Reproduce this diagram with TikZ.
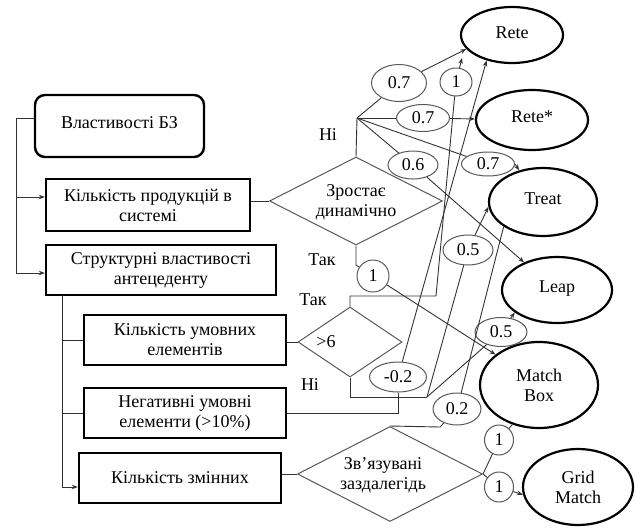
\documentclass[tikz,border=0pt]{standalone}
\usepackage{fontspec}
\setmainfont{Liberation Serif}
\usetikzlibrary{shapes.geometric,arrows.meta}
\begin{document}
\begin{tikzpicture}[x=1pt,y=-1pt,
  txt/.style={font=\fontsize{18}{20}\selectfont, align=center, text=black},
  box/.style={draw=black, line width=2.4pt, inner sep=0pt, txt},
  dia/.style={draw=black!65, line width=1pt, diamond, inner sep=0pt},
  target/.style={draw=black, line width=2.2pt, ellipse, inner sep=0pt, txt},
  wt/.style={draw=black!65, line width=1pt, ellipse, inner sep=0pt, txt},
  ln/.style={draw=black!80, line width=0.9pt},
  ar/.style={ln, -{Stealth[length=6pt,width=4.5pt]}}
]
\useasboundingbox (0,0) rectangle (637,528);
\fill[white] (0,0) rectangle (637,528);

% left boxes
\node[box, rounded corners=10pt, minimum width=169, minimum height=62] (b0) at (119.5,126) {\raisebox{6pt}{Властивості БЗ}};
\node[box, minimum width=204, minimum height=52] (b1) at (148,205) {Кількість продукцій в\\системі};
\node[box, minimum width=230, minimum height=50] (b2) at (161,270) {Структурні властивості\\антецеденту};
\node[box, minimum width=202, minimum height=50] (b3) at (185,340) {Кількість умовних\\елементів};
\node[box, minimum width=202, minimum height=50] (b4) at (185,413) {Негативні умовні\\елементи (>10\%)};
\node[box, minimum width=202, minimum height=50] (b5) at (180,478) {Кількість змінних};

% diamonds
\node[dia, minimum width=173, minimum height=88] (d1) at (356,201) {};
\node[txt] (d1t) at (356,202) {Зростає\\динамічно};
\node[dia, minimum width=104, minimum height=70] (d2) at (350,342) {};
\node[txt] (d2t) at (326,342) {>6};
\node[dia, minimum width=185, minimum height=95] (d3) at (390,474) {};
\node[txt] (d3t) at (383,475) {Зв’язувані\\заздалегідь};

% targets
\node[target, minimum width=102, minimum height=56] (rete) at (512,35) {\raisebox{4pt}{Rete}};
\node[target, minimum width=112, minimum height=60] (retes) at (532,120) {\raisebox{6pt}{Rete*}};
\node[target, minimum width=108, minimum height=68] (treat) at (543,202) {\raisebox{6pt}{Treat}};
\node[target, minimum width=110, minimum height=66] (leap) at (557,290) {\raisebox{6pt}{Leap}};
\node[target, minimum width=118, minimum height=86] (matchbox) at (539,385) {Match\\Box};
\node[target, minimum width=110, minimum height=76] (grid) at (578,487) {Grid\\Match};

% weights
\node[wt, minimum width=55, minimum height=37] (w07a) at (399,83) {0.7};
\node[wt, minimum width=32, minimum height=28] (w1a) at (456,82) {1};
\node[wt, minimum width=53, minimum height=27] (w07b) at (423,118) {0.7};
\node[wt, minimum width=50, minimum height=28] (w06) at (413,165) {0.6};
\node[wt, minimum width=53, minimum height=24] (w07c) at (488,164) {0.7};
\node[wt, minimum width=32, minimum height=32] (w1m) at (373,276) {1};
\node[wt, minimum width=50, minimum height=30] (w05a) at (468,250) {0.5};
\node[wt, minimum width=52, minimum height=29] (w05b) at (501,332) {0.5};
\node[wt, minimum width=57, minimum height=30] (wm02) at (398,377) {-0.2};
\node[wt, minimum width=48, minimum height=32] (w02) at (457,409) {0.2};
\node[wt, minimum width=29, minimum height=30] (w1b) at (499,440) {1};
\node[wt, minimum width=29, minimum height=30] (w1c) at (499,487) {1};

% labels
\node[txt] (lni1) at (328,135) {Ні};
\node[txt] (ltak1) at (322,260) {Так};
\node[txt] (ltak2) at (313,300) {Так};
\node[txt] (lni2) at (310,385) {Ні};

% left bus
\coordinate (busA) at (16,118);
\coordinate (busB) at (16,197);
\coordinate (busC) at (16,273);
\draw[ln] (busA -| b0.west) -- (busA) -- (busC);
\draw[ar] (busB) -- (busB -| b1.west);
\draw[ar] (busC) -- (busC -| b2.west);
\coordinate (busT) at (62,295);
\coordinate (busE) at (62,487);
\draw[ln] (busT) -- (busE);
\draw[ln] (busT |- b3.west) -- (b3.west);
\draw[ln] (busT |- b4.west) -- (b4.west);
\draw[ar] (busE) -- (busE -| b5.west);

% boxes to diamonds
\draw[ln] (b1.east |- d1.west) -- (d1.west);
\draw[ln] (b3.east |- d2.west) -- (d2.west);
\draw[ln] (b5.east |- d3.west) -- (d3.west);

% diamond 1: Ні
\coordinate (ni1) at (357,118);
\draw[ln] (d1.north) -- (ni1);
\draw[ln] (ni1) -- (w07a);
\draw[ln] (ni1) -- (w07b);
\draw[ln] (ni1) -- (w07c);
\draw[ln] (ni1) -- (w06);
\draw[ar] (w07a) -- (rete.197);
\draw[ar] (w07b) -- (retes);
\draw[ar] (w07c.east) -- (treat.127);
\draw[ar] (w06) -- (leap.140);

% diamond 1: Так
\coordinate (tak1) at (356,265);
\draw[ln] (d1.south) -- (tak1) -- (w1m);
\draw[ar] (w1m) -- (matchbox.145);

% diamond 2: Так
\coordinate (tak2a) at (350,296);
\coordinate (tak2b) at (436,296);
\coordinate (reteIn) at (462,58);
\draw[ln] (d2.north) -- (tak2a) -- (tak2b) -- (w1a);
\draw[ar] (w1a) -- (reteIn);

% diamond 2: Ні
\coordinate (ni2a) at (350,397);
\coordinate (j2) at (427,397);
\draw[ln] (d2.south) -- (ni2a) -- (j2);
\draw[ln] (j2) -- (w05a);
\draw[ln] (j2) -- (w05b);
\draw[ar] (w05a) -- (treat.185);
\draw[ar] (w05b) -- (leap.208);

% negative elements
\draw[ln] (b4.east) -- (b4.east -| wm02) -- (wm02);
\draw[ar] (wm02) -- (rete.225);

% diamond 3
\coordinate (d3a) at (440,427);
\draw[ln] (d3.north) -- (d3a) -- (w02);
\draw[ln] (w02) -- (treat.212);
\draw[ln] (d3.east) -- (w1b);
\draw[ln] (w1b) -- (matchbox.236);
\draw[ln] (d3.east) -- (w1c);
\draw[ar] (w1c) -- (grid.188);
\end{tikzpicture}
\end{document}
